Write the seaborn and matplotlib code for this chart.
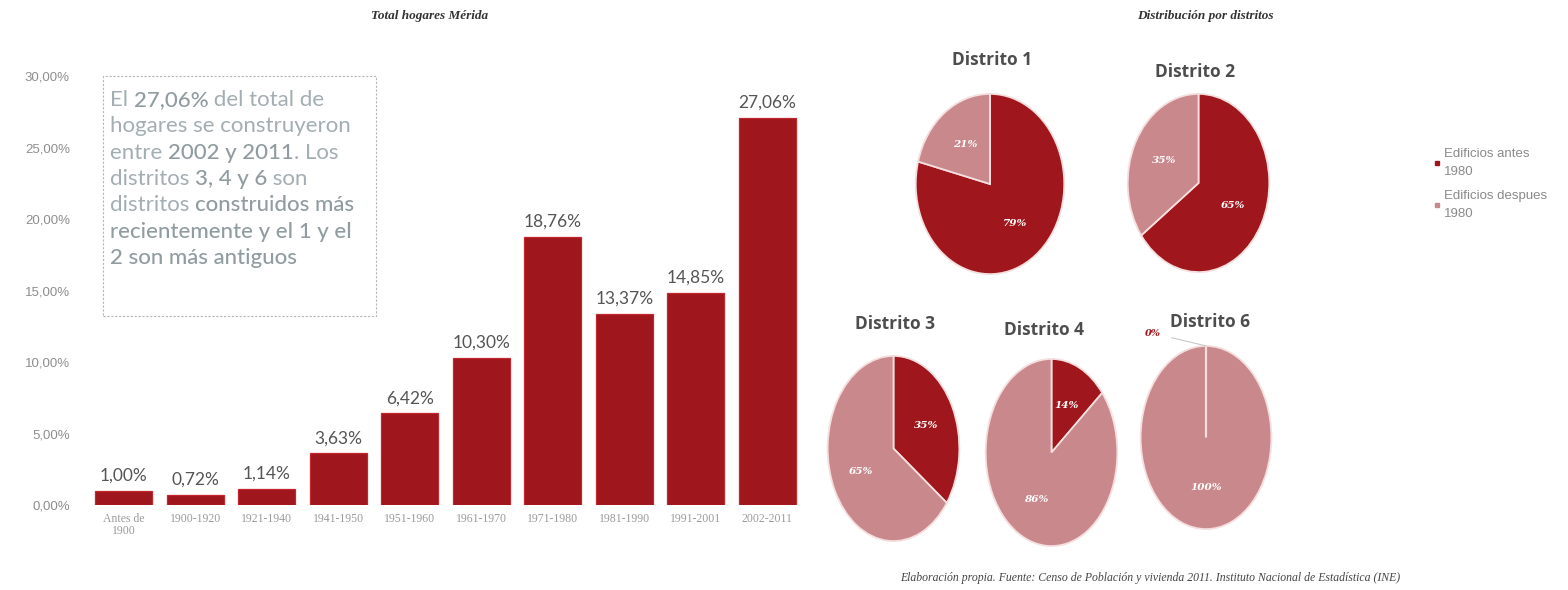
import matplotlib
matplotlib.use("Agg")
import pandas as pd
import matplotlib.pyplot as plt
import seaborn as sns
from matplotlib.patches import Rectangle
from matplotlib.lines import Line2D

# data
periodos = ["Antes de\n1900", "1900-1920", "1921-1940", "1941-1950", "1951-1960",
            "1961-1970", "1971-1980", "1981-1990", "1991-2001", "2002-2011"]
hogares = [1.00, 0.72, 1.14, 3.63, 6.42, 10.30, 18.76, 13.37, 14.85, 27.06]

distritos = ["Distrito 1", "Distrito 2", "Distrito 3", "Distrito 4", "Distrito 6"]
antes_1980 = [79, 65, 35, 14, 0]
despues_1980 = [21, 35, 65, 86, 100]
series = ["Edificios antes\n1980", "Edificios despues\n1980"]

RED = "#9f161d"
PINK = "#c8888c"
W, H = 1568, 590

sns.set_theme(style="white")
plt.rcParams["font.family"] = ["Lato", "DejaVu Sans"]

fig = plt.figure(figsize=(W / 100, H / 100), dpi=100)
fig.patch.set_facecolor("white")


def box(x0, y0, x1, y1):
    # pixel box, origin top-left -> figure rect
    return [x0 / W, 1 - y1 / H, (x1 - x0) / W, (y1 - y0) / H]


# ---- bar chart
ax = fig.add_axes(box(88, 76, 803, 505))
df = pd.DataFrame({"periodo": periodos, "pct": hogares})
sns.barplot(data=df, x="periodo", y="pct", color=RED, saturation=1, width=0.8,
            edgecolor="#c4262d", linewidth=0.9, ax=ax)
ax.bar_label(ax.containers[0], labels=[f"{v:.2f}%".replace(".", ",") for v in hogares],
             padding=5, fontsize=12.5, color="#555555")
ax.set_ylim(0, 30)
ax.set_yticks(range(0, 31, 5))
ax.set_yticklabels([f"{v:.2f}%".replace(".", ",") for v in range(0, 31, 5)])
ax.set_xlabel("")
ax.set_ylabel("")
sns.despine(ax=ax, left=True, bottom=True)
ax.tick_params(axis="y", length=0, pad=13, labelsize=9.5, labelcolor="#8e8e8e")
ax.tick_params(axis="x", length=0, pad=6, labelsize=8.5, labelcolor="#9a9a9a")
for t in ax.get_yticklabels():
    t.set_family("Liberation Sans")
for t in ax.get_xticklabels():
    t.set_family("Liberation Serif")
    t.set_linespacing(1.0)

fig.text(430 / W, 1 - 16 / H, "Total hogares Mérida", ha="center", va="center",
         family="Liberation Serif", style="italic", weight="bold", fontsize=9.5, color="#333333")

# ---- text box
fig.add_artist(Rectangle((103 / W, 1 - 316 / H), 273 / W, 240 / H, transform=fig.transFigure,
                         fill=False, edgecolor="#b5b5b5", linestyle=(0, (2, 1.5)), linewidth=0.8))
lines = [
    [("El ", 0), ("27,06%", 1), (" del total de", 0)],
    [("hogares se construyeron", 0)],
    [("entre ", 0), ("2002 y 2011", 1), (". Los", 0)],
    [("distritos ", 0), ("3, 4 y 6", 1), (" son", 0)],
    [("distritos ", 0), ("construidos más", 1)],
    [("recientemente y el 1 y el", 1)],
    [("2 son más antiguos", 1)],
]
for i, segs in enumerate(lines):
    y = 1 - (106 + i * 26.3) / H
    prev = None
    for s, b in segs:
        kw = dict(fontsize=16, color="#909ca0" if b else "#a3aeb2",
                  weight="medium" if b else "normal", family=["Lato", "DejaVu Sans"])
        if prev is None:
            prev = fig.text(110 / W, y, s, ha="left", va="baseline", **kw)
        else:
            prev = ax.annotate(s, xy=(1, 0), xycoords=prev, ha="left", va="bottom",
                               annotation_clip=False, **kw)

# ---- pies
pie_boxes = [(915, 93, 1065, 275), (1127, 93, 1270, 273), (827, 355, 960, 542),
             (985, 358, 1118, 547), (1140, 345, 1272, 530)]
title_pos = [(992, 60), (1195, 72), (895, 324), (1044, 330), (1210, 322)]
for i, name in enumerate(distritos):
    pax = fig.add_axes(box(*pie_boxes[i]))
    vals = [antes_1980[i], despues_1980[i]]
    wedges, _, autotexts = pax.pie(vals, colors=[RED, PINK], startangle=90, counterclock=False,
                                   wedgeprops=dict(edgecolor="#f5dede", linewidth=1.3),
                                   autopct=lambda p: f"{p:.0f}%", pctdistance=0.55,
                                   textprops=dict(color="white", family="DejaVu Serif",
                                                  style="italic", weight="bold", fontsize=7.5))
    for v, w, t in zip(vals, wedges, autotexts):
        if v == 0:
            w.set_zorder(3)
            w.set_linewidth(1.6)
            t.set_visible(False)
            pax.annotate(f"{v}%", xy=(0, 1.0), xytext=(-0.82, 1.14), ha="center", va="center",
                         color=RED, family="DejaVu Serif", style="italic", weight="bold",
                         fontsize=7, annotation_clip=False,
                         arrowprops=dict(arrowstyle="-", color="#c8c8c8", lw=0.8, shrinkA=6, shrinkB=0))
    pax.set_xlim(-1.01, 1.01)
    pax.set_ylim(-1.01, 1.01)
    pax.set_aspect("auto")
    fig.text(title_pos[i][0] / W, 1 - title_pos[i][1] / H, name, ha="center", va="center",
             fontsize=12.5, weight="bold", color="#4d4d4d", family=["Open Sans", "DejaVu Sans"])

fig.text(1205 / W, 1 - 16 / H, "Distribución por distritos", ha="center", va="center",
         family="Liberation Serif", style="italic", weight="bold", fontsize=9.5, color="#333333")

handles = [Line2D([], [], marker="s", linestyle="", color=c, markersize=3) for c in [RED, PINK]]
leg = fig.legend(handles, series, loc="upper left", bbox_to_anchor=(1422 / W, 1 - 136 / H),
                 frameon=False, handlelength=0.4, handletextpad=0.35, labelspacing=0.9,
                 prop=dict(family="Liberation Sans", size=9.5), labelcolor="#8a8a8a")
for t in leg.get_texts():
    t.set_linespacing(1.7)

fig.text(1150 / W, 1 - 578 / H,
         "Elaboración propia. Fuente: Censo de Población y vivienda 2011. Instituto Nacional de Estadística (INE)",
         ha="center", va="center", family="Liberation Serif", style="italic", fontsize=8.5,
         color="#444444")

fig.savefig("out.png", dpi=100, facecolor="white")
